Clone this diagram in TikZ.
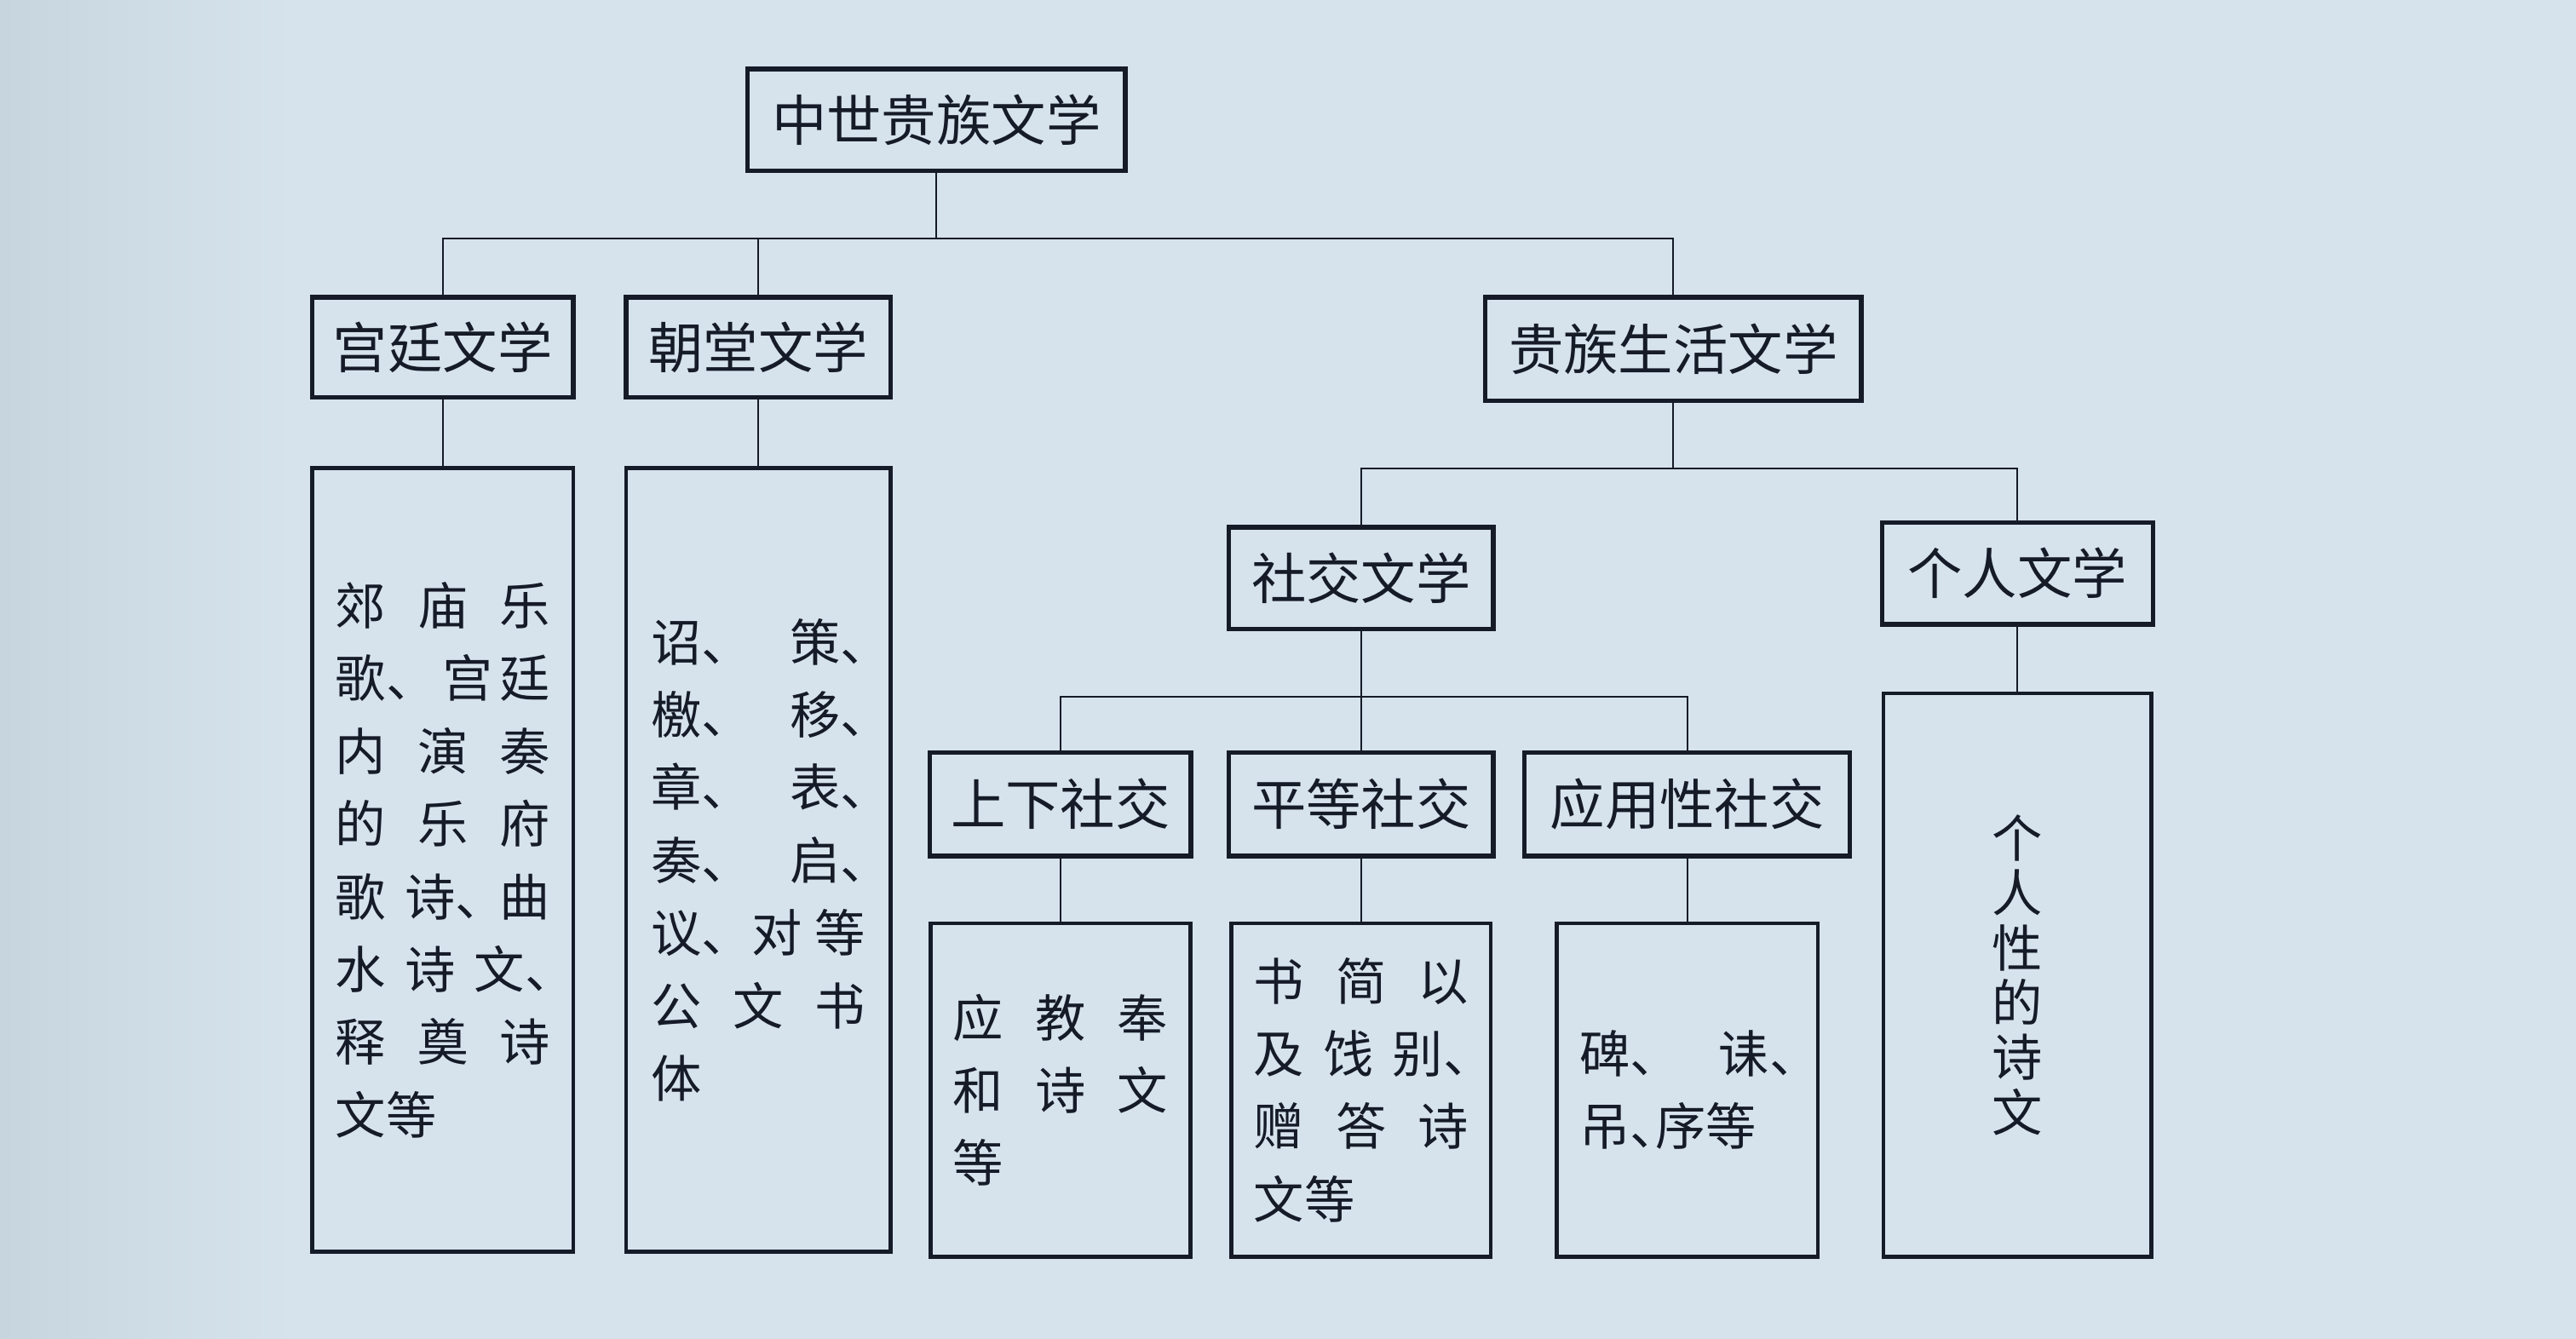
\documentclass[tikz,border=0pt]{standalone}
\usepackage{fontspec}
\setmainfont{Noto Sans CJK SC}
\usepackage{xcolor}

\definecolor{paper}{RGB}{214,227,237}
\definecolor{paperedge}{RGB}{199,214,222}
\definecolor{ink}{RGB}{22,27,40}

% one justified line of a detail box
\newcommand{\jline}[1]{\makebox[4.25em][l]{#1}}
\newcommand{\dun}{、\hspace{-.5em}}

\begin{document}
\begin{tikzpicture}[x=0.02cm,y=-0.02cm,
    head/.style={draw=ink,line width=1.6pt,inner sep=0pt,text=ink,
      font=\fontsize{19pt}{22pt}\selectfont},
    detail/.style={draw=ink,line width=1.35pt,inner sep=0pt,text=ink,align=left,
      font=\fontsize{17.5pt}{25.2pt}\selectfont},
    link/.style={draw=ink,line width=0.6pt}]
  \useasboundingbox (0,0) rectangle (1568,815);
  \fill[paper] (0,0) rectangle (1568,815);
  \shade[left color=paperedge,right color=paper] (0,0) rectangle (180,815);

  % top levels
  \node[head,minimum width=4.6cm,minimum height=1.24cm] (top) at (570,73) {中世贵族文学};
  \node[head,minimum width=3.18cm,minimum height=1.22cm] (gong) at (269.5,211.5) {宫廷文学};
  \node[head,minimum width=3.22cm,minimum height=1.22cm] (chao) at (461.5,211.5) {朝堂文学};
  \node[head,minimum width=4.58cm,minimum height=1.26cm] (guizu) at (1018.5,212.5) {贵族生活文学};
  \node[head,minimum width=3.22cm,minimum height=1.24cm] (shejiao) at (828.5,352) {社交文学};
  \node[head,minimum width=3.3cm,minimum height=1.24cm] (geren) at (1228,349) {个人文学};
  \node[head,minimum width=3.18cm,minimum height=1.26cm] (shangxia) at (645.5,489.5) {上下社交};
  \node[head,minimum width=3.22cm,minimum height=1.26cm] (pingdeng) at (828.5,489.5) {平等社交};
  \node[head,minimum width=3.96cm,minimum height=1.26cm] (yingyong) at (1027,489.5) {应用性社交};

  % detail boxes
  \node[detail,minimum width=3.18cm,minimum height=9.54cm] (gongD) at (269.5,523.5) {%
    \jline{郊\hfill 庙\hfill 乐}\\
    \jline{歌、\hfill 宫\hfill 廷}\\
    \jline{内\hfill 演\hfill 奏}\\
    \jline{的\hfill 乐\hfill 府}\\
    \jline{歌\hfill 诗\dun\hfill 曲}\\
    \jline{水\hfill 诗\hfill 文\dun}\\
    \jline{释\hfill 奠\hfill 诗}\\
    \jline{文等}};
  \node[detail,minimum width=3.22cm,minimum height=9.54cm] (chaoD) at (461.5,523.5) {%
    \jline{诏\dun\hfill 策\dun}\\
    \jline{檄\dun\hfill 移\dun}\\
    \jline{章\dun\hfill 表\dun}\\
    \jline{奏\dun\hfill 启\dun}\\
    \jline{议、对\hfill 等}\\
    \jline{公\hfill 文\hfill 书}\\
    \jline{体}};
  \node[detail,minimum width=3.16cm,minimum height=4.06cm] (shangxiaD) at (645.5,663.5) {%
    \jline{应\hfill 教\hfill 奉}\\
    \jline{和\hfill 诗\hfill 文}\\
    \jline{等}};
  \node[detail,minimum width=3.16cm,minimum height=4.06cm] (pingdengD) at (828.5,663.5) {%
    \jline{书\hfill 简\hfill 以}\\
    \jline{及\hfill 饯\hfill 别\dun}\\
    \jline{赠\hfill 答\hfill 诗}\\
    \jline{文等}};
  \node[detail,minimum width=3.18cm,minimum height=4.06cm] (yingyongD) at (1027,663.5) {%
    \jline{碑\dun\hfill 诔\dun}\\
    \jline{吊\dun 序等}};
  \node[detail,align=center,minimum width=3.26cm,minimum height=6.86cm,
    font=\fontsize{17.5pt}{19pt}\selectfont] (gerenD) at (1228,593.5) {个\\人\\性\\的\\诗\\文};

  % connectors
  \coordinate (j1) at (570,145);
  \coordinate (j2) at (1018.5,285);
  \coordinate (j3) at (828.5,424);
  \draw[link] (top) -- (j1);
  \draw[link] (gong) |- (j1) -| (guizu);
  \draw[link] (chao) -- (chao |- j1);
  \draw[link] (gong) -- (gongD);
  \draw[link] (chao) -- (chaoD);
  \draw[link] (guizu) -- (j2);
  \draw[link] (shejiao) |- (j2) -| (geren);
  \draw[link] (geren) -- (gerenD);
  \draw[link] (shejiao) -- (pingdeng);
  \draw[link] (shangxia) |- (j3) -| (yingyong);
  \draw[link] (shangxia) -- (shangxiaD);
  \draw[link] (pingdeng) -- (pingdengD);
  \draw[link] (yingyong) -- (yingyongD);
\end{tikzpicture}
\end{document}
